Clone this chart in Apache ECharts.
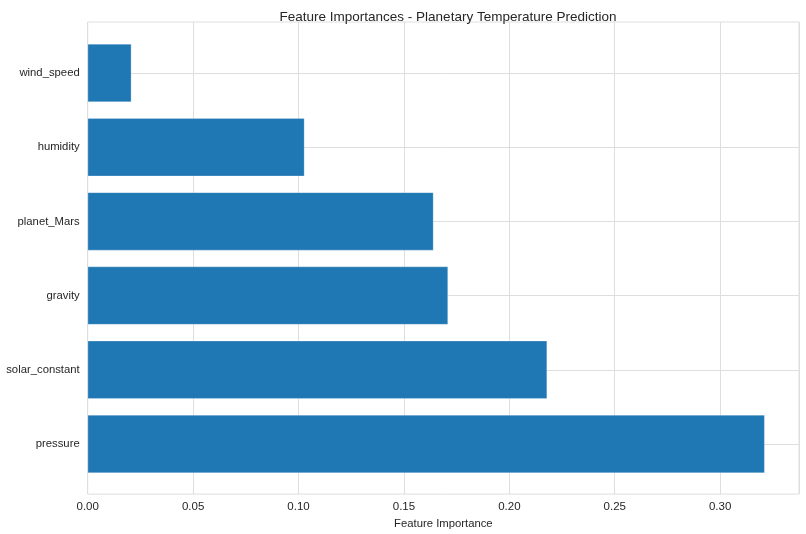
<!DOCTYPE html>
<html>
<head>
<meta charset="utf-8">
<script src="https://cdn.jsdelivr.net/npm/echarts@6/dist/echarts.min.js"></script>
<style>
  html, body { margin: 0; padding: 0; background: #fff; }
  #main { width: 806px; height: 534px; }
</style>
</head>
<body>
<div id="main"></div>
<script>
// data, bottom to top
var features = ['pressure', 'solar_constant', 'gravity', 'planet_Mars', 'humidity', 'wind_speed'];
var importances = [0.3211, 0.2179, 0.1709, 0.1640, 0.1028, 0.0207];
var xMax = 0.3374;

var font = 'Arial, "Liberation Sans", sans-serif';
var textColor = '#262626';
var gridColor = '#dedede';

var myChart = echarts.init(document.getElementById('main'));
myChart.setOption({
  animation: false,
  title: {
    text: 'Feature Importances - Planetary Temperature Prediction',
    left: 443,
    top: 5,
    textAlign: 'center',
    textStyle: { fontFamily: font, fontSize: 13.5, fontWeight: 'normal', color: textColor }
  },
  grid: [
    // outer frame, vertical grid lines
    { left: 87.7, right: 7, top: 22, bottom: 39, show: true, borderColor: gridColor, borderWidth: 1 },
    // bars: category centres span
    { left: 87.7, right: 7, top: 73, bottom: 90 }
  ],
  xAxis: [
    {
      gridIndex: 0, type: 'value', min: 0, max: xMax, interval: 0.05,
      name: 'Feature Importance', nameLocation: 'middle', nameGap: 21,
      nameTextStyle: { fontFamily: font, fontSize: 11.3, color: textColor, verticalAlign: 'top' },
      axisLine: { show: false }, axisTick: { show: false },
      axisLabel: {
        fontFamily: font, fontSize: 11.5, color: textColor, margin: 7, showMaxLabel: false,
        formatter: function (v) { return v.toFixed(2); }
      },
      splitLine: { show: true, lineStyle: { color: gridColor, width: 1 } }
    },
    {
      gridIndex: 1, type: 'value', min: 0, max: xMax, show: false
    }
  ],
  yAxis: [
    { gridIndex: 0, type: 'value', show: false, min: 0, max: 1 },
    {
      gridIndex: 1, type: 'category', data: features, boundaryGap: false,
      axisLine: { show: false }, axisTick: { show: false },
      axisLabel: { fontFamily: font, fontSize: 11.3, color: textColor, margin: 8 },
      splitLine: { show: true, lineStyle: { color: gridColor, width: 1 } }
    }
  ],
  series: [{
    type: 'bar',
    xAxisIndex: 1,
    yAxisIndex: 1,
    data: importances,
    barWidth: 58,
    clip: false,
    itemStyle: { color: '#1f77b4', borderColor: 'rgba(255,255,255,0.5)', borderWidth: 0.5 }
  }]
});
</script>
</body>
</html>
